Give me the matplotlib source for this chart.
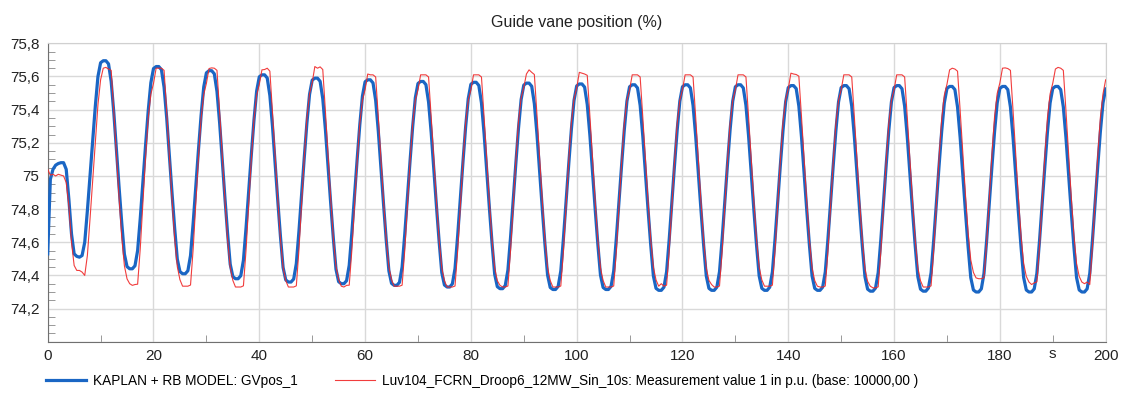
import numpy as np
import matplotlib.pyplot as plt
from matplotlib.ticker import MultipleLocator, FuncFormatter

plt.rcParams['font.family'] = ['Liberation Sans', 'DejaVu Sans']
plt.rcParams['font.size'] = 10

# samples every 0.5 s, one row per 10 s block
t = np.arange(0, 200.01, 0.5)

gv_model = [
    74.53, 74.98, 75.04, 75.065, 75.075, 75.08, 75.08, 75.04, 74.86, 74.65, 74.53, 74.515, 74.51, 74.52, 74.60, 74.79, 75.00, 75.21, 75.42, 75.60,
    75.683, 75.695, 75.695, 75.676, 75.570, 75.381, 75.155, 74.929, 74.716, 74.528, 74.453, 74.44, 74.44, 74.458, 74.550, 74.745, 74.965, 75.184, 75.392, 75.562,
    75.648, 75.66, 75.66, 75.641, 75.535, 75.348, 75.123, 74.898, 74.685, 74.498, 74.423, 74.41, 74.41, 74.428, 74.520, 74.716, 74.937, 75.157, 75.366, 75.537,
    75.622, 75.635, 75.635, 75.616, 75.510, 75.321, 75.095, 74.869, 74.656, 74.468, 74.393, 74.38, 74.38, 74.398, 74.491, 74.688, 74.909, 75.130, 75.339, 75.512,
    75.598, 75.61, 75.61, 75.591, 75.485, 75.298, 75.073, 74.848, 74.635, 74.448, 74.373, 74.36, 74.36, 74.378, 74.471, 74.668, 74.889, 75.110, 75.319, 75.492,
    75.578, 75.59, 75.59, 75.571, 75.466, 75.280, 75.057, 74.834, 74.623, 74.437, 74.362, 74.35, 74.35, 74.368, 74.461, 74.658, 74.879, 75.100, 75.309, 75.482,
    75.568, 75.58, 75.58, 75.561, 75.456, 75.270, 75.047, 74.824, 74.613, 74.427, 74.352, 74.34, 74.34, 74.358, 74.451, 74.648, 74.869, 75.090, 75.299, 75.472,
    75.558, 75.57, 75.57, 75.551, 75.446, 75.260, 75.037, 74.814, 74.603, 74.417, 74.342, 74.33, 74.33, 74.349, 74.441, 74.639, 74.861, 75.083, 75.293, 75.466,
    75.553, 75.565, 75.565, 75.546, 75.441, 75.254, 75.030, 74.806, 74.594, 74.407, 74.332, 74.32, 74.32, 74.339, 74.432, 74.630, 74.853, 75.076, 75.287, 75.461,
    75.548, 75.56, 75.56, 75.541, 75.436, 75.249, 75.025, 74.801, 74.589, 74.402, 74.327, 74.315, 74.315, 74.334, 74.427, 74.625, 74.848, 75.071, 75.282, 75.456,
    75.543, 75.555, 75.555, 75.536, 75.431, 75.245, 75.022, 74.799, 74.588, 74.402, 74.327, 74.315, 74.315, 74.334, 74.426, 74.624, 74.846, 75.068, 75.278, 75.451,
    75.538, 75.55, 75.55, 75.531, 75.426, 75.240, 75.017, 74.794, 74.583, 74.397, 74.322, 74.31, 74.31, 74.329, 74.422, 74.620, 74.843, 75.066, 75.277, 75.451,
    75.538, 75.55, 75.55, 75.531, 75.426, 75.240, 75.017, 74.794, 74.583, 74.397, 74.322, 74.31, 74.31, 74.329, 74.422, 74.620, 74.843, 75.066, 75.277, 75.451,
    75.538, 75.55, 75.55, 75.531, 75.426, 75.240, 75.017, 74.794, 74.583, 74.397, 74.322, 74.31, 74.31, 74.329, 74.421, 74.619, 74.841, 75.063, 75.273, 75.446,
    75.533, 75.545, 75.545, 75.527, 75.422, 75.236, 75.014, 74.792, 74.582, 74.397, 74.322, 74.31, 74.31, 74.329, 74.421, 74.619, 74.841, 75.063, 75.273, 75.446,
    75.533, 75.545, 75.545, 75.526, 75.421, 75.235, 75.012, 74.789, 74.578, 74.392, 74.317, 74.305, 74.305, 74.324, 74.417, 74.615, 74.838, 75.061, 75.272, 75.446,
    75.533, 75.545, 75.545, 75.526, 75.421, 75.235, 75.012, 74.789, 74.578, 74.392, 74.317, 74.305, 74.305, 74.324, 74.416, 74.614, 74.836, 75.058, 75.268, 75.441,
    75.528, 75.54, 75.54, 75.521, 75.416, 75.230, 75.007, 74.784, 74.573, 74.387, 74.312, 74.30, 74.30, 74.319, 74.412, 74.610, 74.833, 75.056, 75.267, 75.441,
    75.528, 75.54, 75.54, 75.521, 75.416, 75.230, 75.007, 74.784, 74.573, 74.387, 74.312, 74.30, 74.30, 74.319, 74.412, 74.610, 74.833, 75.056, 75.267, 75.441,
    75.528, 75.54, 75.54, 75.521, 75.416, 75.230, 75.007, 74.784, 74.573, 74.387, 74.312, 74.30, 74.30, 74.319, 74.412, 74.610, 74.833, 75.056, 75.267, 75.441,
    75.525,
]

gv_meas = [
    75.04, 75.005, 75.01, 75.0, 75.01, 75.005, 75.0, 74.96, 74.82, 74.60, 74.46, 74.43, 74.43, 74.42, 74.40, 74.52, 74.74, 74.97, 75.20, 75.43,
    75.58, 75.65, 75.655, 75.645, 75.637, 75.388, 75.126, 74.864, 74.628, 74.458, 74.379, 74.35, 74.34, 74.345, 74.347, 74.563, 74.838, 75.113, 75.349, 75.493,
    75.558, 75.65, 75.65, 75.65, 75.637, 75.387, 75.124, 74.861, 74.624, 74.453, 74.374, 74.335, 74.335, 74.335, 74.342, 74.559, 74.835, 75.111, 75.348, 75.492,
    75.558, 75.648, 75.652, 75.65, 75.637, 75.386, 75.122, 74.858, 74.620, 74.449, 74.370, 74.33, 74.33, 74.33, 74.337, 74.554, 74.830, 75.106, 75.343, 75.487,
    75.553, 75.64, 75.642, 75.65, 75.632, 75.382, 75.119, 74.856, 74.619, 74.448, 74.369, 74.33, 74.33, 74.33, 74.337, 74.555, 74.834, 75.112, 75.350, 75.496,
    75.562, 75.66, 75.65, 75.658, 75.642, 75.391, 75.127, 74.863, 74.625, 74.454, 74.375, 74.335, 74.33, 74.34, 74.341, 74.552, 74.820, 75.087, 75.317, 75.457,
    75.521, 75.615, 75.61, 75.61, 75.597, 75.355, 75.100, 74.845, 74.616, 74.450, 74.373, 74.335, 74.335, 74.335, 74.341, 74.552, 74.820, 75.087, 75.317, 75.457,
    75.521, 75.61, 75.61, 75.61, 75.597, 75.354, 75.098, 74.842, 74.612, 74.445, 74.368, 74.33, 74.33, 74.33, 74.336, 74.548, 74.816, 75.085, 75.316, 75.456,
    75.520, 75.61, 75.61, 75.61, 75.597, 75.354, 75.098, 74.842, 74.612, 74.445, 74.368, 74.34, 74.33, 74.33, 74.336, 74.550, 74.822, 75.094, 75.327, 75.470,
    75.534, 75.615, 75.64, 75.625, 75.612, 75.366, 75.107, 74.848, 74.615, 74.447, 74.369, 74.33, 74.33, 74.33, 74.336, 74.549, 74.820, 75.091, 75.323, 75.465,
    75.530, 75.625, 75.62, 75.615, 75.607, 75.362, 75.104, 74.846, 74.614, 74.446, 74.369, 74.33, 74.33, 74.33, 74.336, 74.548, 74.816, 75.085, 75.316, 75.456,
    75.520, 75.61, 75.61, 75.61, 75.597, 75.355, 75.100, 74.845, 74.616, 74.450, 74.373, 74.335, 74.35, 74.335, 74.341, 74.552, 74.820, 75.087, 75.317, 75.457,
    75.521, 75.61, 75.61, 75.61, 75.597, 75.354, 75.098, 74.842, 74.612, 74.445, 74.370, 74.345, 74.33, 74.33, 74.336, 74.548, 74.816, 75.085, 75.316, 75.456,
    75.520, 75.61, 75.61, 75.61, 75.597, 75.355, 75.100, 74.845, 74.616, 74.450, 74.373, 74.335, 74.335, 74.335, 74.341, 74.553, 74.821, 75.090, 75.321, 75.461,
    75.525, 75.62, 75.615, 75.612, 75.602, 75.358, 75.101, 74.844, 74.613, 74.446, 74.369, 74.335, 74.33, 74.33, 74.336, 74.548, 74.816, 75.085, 75.316, 75.456,
    75.520, 75.61, 75.61, 75.61, 75.597, 75.353, 75.096, 74.839, 74.608, 74.441, 74.364, 74.335, 74.325, 74.325, 74.331, 74.543, 74.813, 75.083, 75.314, 75.456,
    75.520, 75.61, 75.61, 75.61, 75.597, 75.354, 75.098, 74.842, 74.612, 74.445, 74.368, 74.33, 74.33, 74.33, 74.337, 74.554, 74.830, 75.106, 75.343, 75.487,
    75.553, 75.64, 75.65, 75.645, 75.632, 75.392, 75.139, 74.886, 74.658, 74.494, 74.418, 74.385, 74.38, 74.38, 74.386, 74.596, 74.863, 75.129, 75.358, 75.498,
    75.561, 75.65, 75.652, 75.648, 75.637, 75.391, 75.132, 74.873, 74.640, 74.472, 74.394, 74.36, 74.345, 74.355, 74.361, 74.575, 74.847, 75.119, 75.352, 75.495,
    75.559, 75.645, 75.655, 75.65, 75.637, 75.391, 75.132, 74.873, 74.640, 74.472, 74.394, 74.36, 74.35, 74.36, 74.345, 74.575, 74.847, 75.119, 75.352, 75.495,
    75.58,
]

model_label = 'KAPLAN + RB MODEL: GVpos_1'
meas_label = 'Luv104_FCRN_Droop6_12MW_Sin_10s: Measurement value 1 in p.u. (base: 10000,00 )'


def comma_fmt(v, pos):
    if v < 74.1:
        return ''
    return ('%g' % round(v, 1)).replace('.', ',')


fig = plt.figure(figsize=(11.25, 3.94), dpi=100)
ax = fig.add_axes([0.0424, 0.1327, 0.9404, 0.7573])

ax.plot(t, gv_model, color='#1a66c4', lw=2.3, label=model_label, zorder=3)
ax.plot(t, gv_meas, color='#f02828', lw=0.8, alpha=0.9, label=meas_label, zorder=4)

ax.set_xlim(0, 200)
ax.set_ylim(74.0, 75.8)
ax.xaxis.set_major_locator(MultipleLocator(20))
ax.xaxis.set_minor_locator(MultipleLocator(10))
ax.yaxis.set_major_locator(MultipleLocator(0.2))
ax.yaxis.set_minor_locator(MultipleLocator(0.05))
ax.yaxis.set_major_formatter(FuncFormatter(comma_fmt))

ax.grid(which='major', color='#d9d9d9', lw=1)
ax.set_axisbelow(True)
ax.tick_params(which='both', direction='in', color='#888888', labelcolor='#222222', labelsize=11)
ax.tick_params(which='major', length=0)
ax.tick_params(which='minor', length=5)
ax.tick_params(axis='y', pad=6)
ax.tick_params(axis='x', pad=5)
for side in ['top', 'right']:
    ax.spines[side].set_color('#d0d0d0')
for side in ['left', 'bottom']:
    ax.spines[side].set_color('#707070')

# time unit sits in the tick row between 180 and 200
ax.text(190, -0.018, 's', transform=ax.get_xaxis_transform(), ha='center', va='top',
        fontsize=11, color='#222222')

ax.set_title('Guide vane position (%)', fontsize=11.5, pad=12, color='#222222')

fig.legend(loc='center left', bbox_to_anchor=(0.041, 0.033), ncol=2, frameon=False,
           handlelength=2.95, handletextpad=0.5, columnspacing=2.7, borderaxespad=0,
           borderpad=0, fontsize=9.8)

fig.savefig('out.png', dpi=100)
